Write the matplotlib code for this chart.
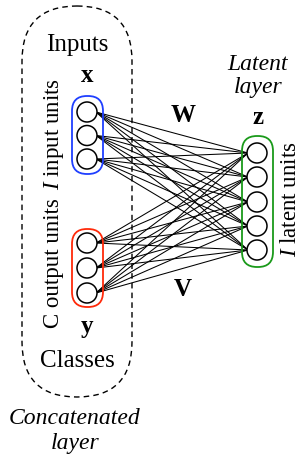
import matplotlib
matplotlib.use("Agg")
import matplotlib.pyplot as plt
from matplotlib.patches import Circle, FancyBboxPatch

# Diagram content
input_label = "Inputs"
class_label = "Classes"
input_units = 3
output_units = 3
latent_units = 5
input_vec, output_vec, latent_vec = "x", "y", "z"
weight_in, weight_out = "W", "V"

plt.rcParams['font.family'] = ['Liberation Serif', 'DejaVu Serif']
plt.rcParams['mathtext.fontset'] = 'custom'
plt.rcParams['mathtext.it'] = 'Liberation Serif:italic'
plt.rcParams['mathtext.rm'] = 'Liberation Serif'

fig = plt.figure(figsize=(3.0, 4.62), dpi=100)
ax = fig.add_axes([0, 0, 1, 1])
ax.set_xlim(0, 300)
ax.set_ylim(462, 0)
ax.axis('off')

r = 10
xin = 87
in_y = [112, 135.5, 159]
out_y = [243, 268, 293]
xl = 257
lat_y = [153, 177, 202, 226, 250]

# Dashed stadium for concatenated layer
stad = FancyBboxPatch((22, 6), 110, 391, boxstyle="round,pad=0,rounding_size=55",
                      fill=False, ls=(0, (4, 3)), lw=1.0, ec='black')
ax.add_patch(stad)

# connections
for ys in (in_y, out_y):
    for y0 in ys:
        for y1 in lat_y:
            ax.plot([xin + r - 1, xl - r + 1], [y0, y1], color='black', lw=0.75, zorder=2)

# group boxes
def group(x0, y0, w, h, col):
    p = FancyBboxPatch((x0, y0), w, h, boxstyle="round,pad=0,rounding_size=15",
                       fill=False, ec=col, lw=1.3, zorder=3)
    ax.add_patch(p)

group(72, 96, 31, 78, '#1f3fff')
group(72, 229, 31, 78, '#ff2a0a')
group(242, 136, 31, 131, '#1a9a1a')

for y in in_y + out_y:
    ax.add_patch(Circle((xin, y), r, fc='white', ec='black', lw=1.1, zorder=4))
for y in lat_y:
    ax.add_patch(Circle((xl, y), r, fc='white', ec='black', lw=1.1, zorder=4))

fs_big = 18
fs_it = 17
fs_rot = 16.5
fs_b = 18
ax.text(77, 45, input_label, ha='center', va='center', fontsize=fs_big)
ax.text(77, 361, class_label, ha='center', va='center', fontsize=fs_big)
ax.text(87, 76, input_vec, ha='center', va='center', fontsize=fs_b, fontweight='bold')
ax.text(87, 326, output_vec, ha='center', va='center', fontsize=fs_b, fontweight='bold')
ax.text(258, 118, latent_vec, ha='center', va='center', fontsize=fs_b, fontweight='bold')
ax.text(183, 115, weight_in, ha='center', va='center', fontsize=fs_b, fontweight='bold')
ax.text(183, 290, weight_out, ha='center', va='center', fontsize=fs_b, fontweight='bold')
ax.text(258, 65, "Latent", ha='center', va='center', fontsize=fs_it, style='italic')
ax.text(258, 88, "layer", ha='center', va='center', fontsize=fs_it, style='italic')
ax.text(75, 419, "Concatenated", ha='center', va='center', fontsize=fs_it, style='italic')
ax.text(75, 443, "layer", ha='center', va='center', fontsize=fs_it, style='italic')
ax.text(54, 134, r"$I$ input units", ha='center', va='center', fontsize=fs_rot, rotation=90)
ax.text(54, 263, r"C output units", ha='center', va='center', fontsize=fs_rot, rotation=90)
ax.text(291, 199, r"$I$ latent units", ha='center', va='center', fontsize=fs_rot, rotation=90)

fig.savefig("out.png", dpi=100)
